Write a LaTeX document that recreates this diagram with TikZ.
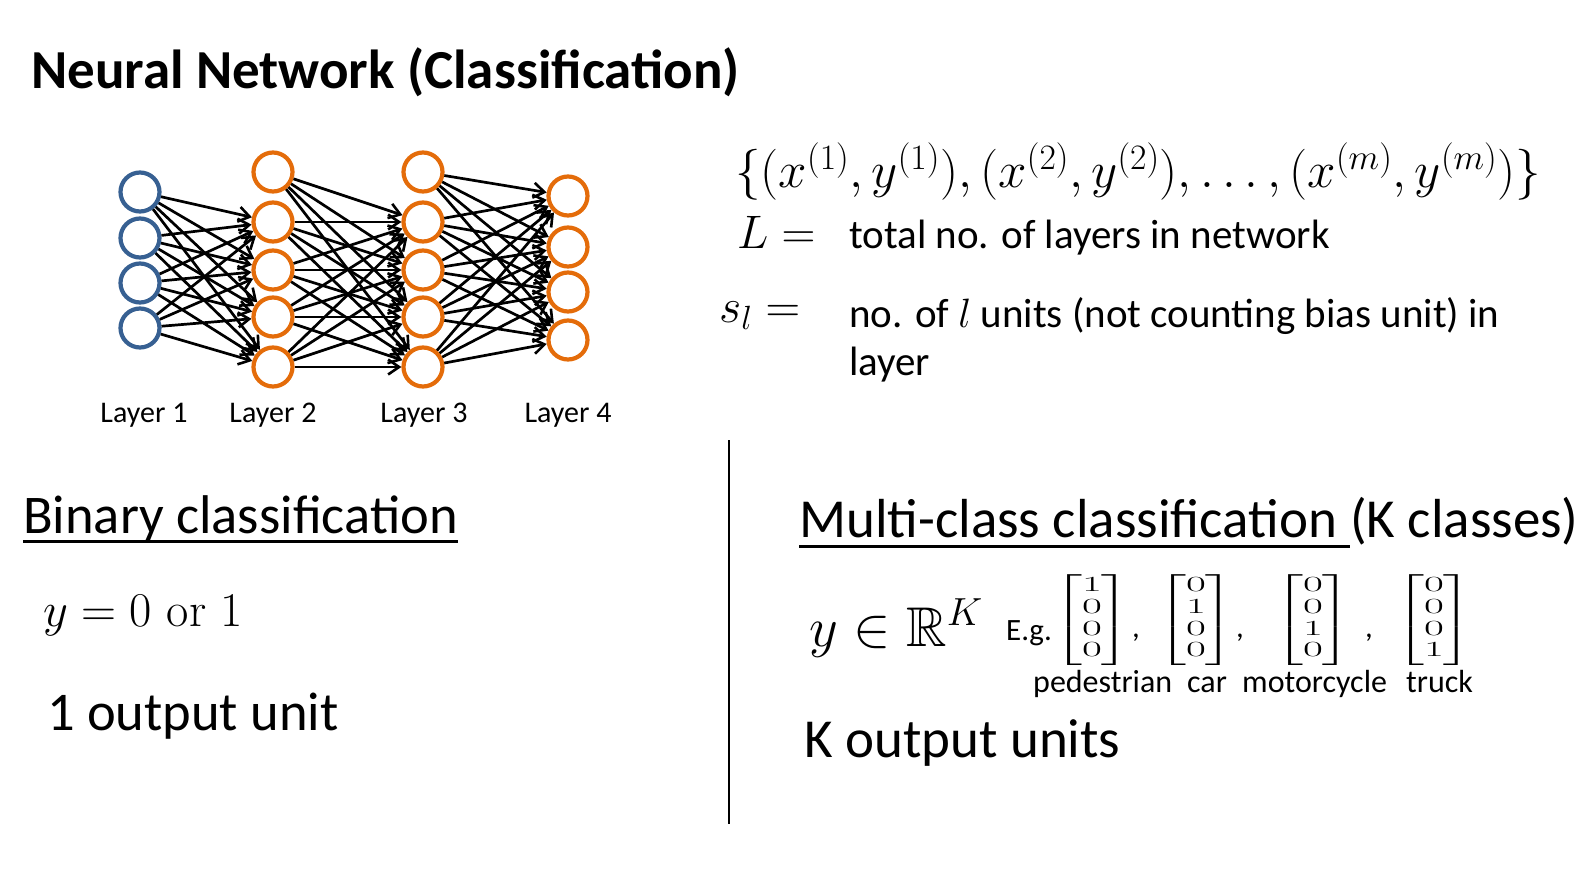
\documentclass[tikz,border=0pt]{standalone}
\usepackage{fix-cm}
\usepackage{amsmath}
\usepackage{amssymb}
\DeclareFontFamily{U}{msb}{}
\DeclareFontShape{U}{msb}{m}{n}{<-> msbm10}{}
\usepackage{fontspec}
\newfontfamily\calibri{Carlito}
\usepackage{tikz}
\usetikzlibrary{arrows.meta}
\definecolor{inblue}{RGB}{55,96,146}
\definecolor{hidorange}{RGB}{228,108,10}
\newcommand{\onehot}[4]{\scalebox{1.2}[0.6]{$\begin{bmatrix}#1\\#2\\#3\\#4\end{bmatrix}$}}
\tikzset{
  unit/.style={circle, draw=#1, line width=4.2pt, minimum size=39pt, inner sep=0pt},
  link/.style={-{Straight Barb[length=11pt, width=15pt, line width=2.6pt]}, line width=2.7pt},
  txt/.style={font=\calibri\fontsize{#1}{#1}\selectfont, inner sep=0pt, anchor=base west},
  eq/.style={font=\fontsize{#1}{#1}\selectfont, inner sep=0pt, anchor=base west},
  vec/.style={font=\fontsize{36}{36.2}\selectfont, inner sep=0pt, anchor=center},
  rule/.style={line width=3pt},
}
\begin{document}
\begin{tikzpicture}[x=1pt, y=-1pt]
\useasboundingbox (0,0) rectangle (1585,869);
% title
\node[txt=54.5, font=\calibri\bfseries\fontsize{55}{55}\selectfont] (title) at (31,89) {Neural Network (Classification)};
% layer 1
\foreach \i/\y in {1/192,2/238,3/283,4/328}
  \node[unit=inblue] (a\i) at (140,\y) {};
% layers 2 and 3 (unit 0 is the bias)
\foreach \i/\y in {0/172,1/222,2/270,3/317,4/367} {
  \node[unit=hidorange] (b\i) at (273,\y) {};
  \node[unit=hidorange] (c\i) at (423,\y) {};
}
% layer 4
\foreach \i/\y in {1/196,2/247,3/292,4/340}
  \node[unit=hidorange] (d\i) at (568,\y) {};
% weights
\foreach \i in {1,...,4}
  \foreach \j in {1,...,4}
    \draw[link] (a\i) -- (b\j);
\foreach \i in {0,...,4}
  \foreach \j in {1,...,4} {
    \draw[link] (b\i) -- (c\j);
    \draw[link] (c\i) -- (d\j);
  }
% layer names
\node[txt=30, anchor=base] (lay1) at (144,422) {Layer 1};
\node[txt=30, anchor=base] (lay2) at (273,422) {Layer 2};
\node[txt=30, anchor=base] (lay3) at (424,422) {Layer 3};
\node[txt=30, anchor=base] (lay4) at (568,422) {Layer 4};
% notation
\node[eq=51] (data) at (735,188) {$\{(x^{(1)},y^{(1)}),(x^{(2)},y^{(2)}),\ldots,(x^{(m)},y^{(m)})\}$};
\node[eq=47] (Ldef) at (737,248) {$L =$};
\node[txt=41] (Ltxt) at (849,248) {total no. of layers in network};
\node[eq=48] (sdef) at (719,322) {$s_l =$};
\node[txt=41] (stxt) at (849,327) {no. of $l$ units (not counting bias unit) in};
\node[txt=41] (stxt2) at (849,375) {layer};
% divider
\draw[line width=2pt] (729,440) -- (729,824);
% binary case
\node[txt=54.5] (binary) at (23,533) {Binary classification};
\draw[rule] ([yshift=-8pt]binary.base west) -- ([yshift=-8pt]binary.base east);
\node[eq=48.5] (ybin) at (43,626) {$y = 0 \text{ or } 1$};
\node[txt=54.5] (one) at (47,730) {1 output unit};
% multi-class case
\node[txt=55] (multi) at (799,537) {Multi-class classification\kern.23em};
\node[txt=55] (kcls) at (multi.base east) {(K classes)};
\draw[rule] ([yshift=-9pt]multi.base west) -- ([yshift=-9pt]multi.base east);
\node[eq=56] (yvec) at (809,646) {$y \in \mathbb{R}^K$};
\node[txt=31] (eg) at (1006,640) {E.g.};
\node[vec] (v1) at (1092,620) {\onehot1000};
\node[vec] (v2) at (1196,620) {\onehot0100};
\node[vec] (v3) at (1313,620) {\onehot0010};
\node[vec] (v4) at (1434,620) {\onehot0001};
\node[txt=31] (cm1) at (1132,637) {,};
\node[txt=31] (cm2) at (1236,637) {,};
\node[txt=31] (cm3) at (1365,637) {,};
\node[txt=32] (ped) at (1033,692) {pedestrian};
\node[txt=32] (car) at (1187,692) {car};
\node[txt=32] (moto) at (1242,692) {motorcycle};
\node[txt=32] (truck) at (1406,692) {truck};
\node[txt=55] (kout) at (804,757) {K output units};
\end{tikzpicture}
\end{document}
